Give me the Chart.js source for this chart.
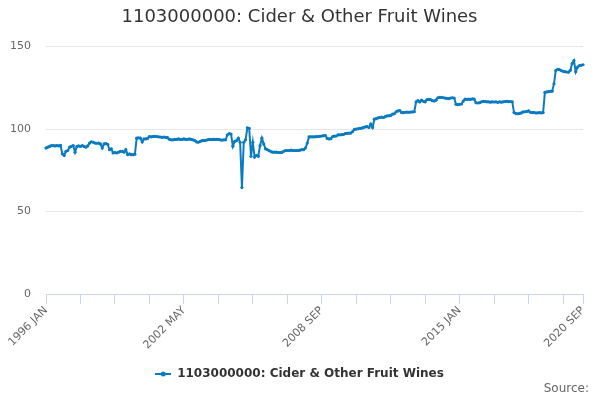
<!DOCTYPE html>
<html>
<head>
<meta charset="utf-8">
<script src="https://cdn.jsdelivr.net/npm/chart.js@4"></script>
<style>
  html, body { margin: 0; padding: 0; background: #ffffff; }
  #wrap { width: 600px; height: 400px; }
</style>
</head>
<body>
<div id="wrap"><canvas id="chart"></canvas></div>
<script>
// Monthly index, 1996 JAN .. 2020 SEP
const seriesName = '1103000000: Cider & Other Fruit Wines';
const sourceText = 'Source:';
const monthNames = ['JAN', 'FEB', 'MAR', 'APR', 'MAY', 'JUN', 'JUL', 'AUG', 'SEP', 'OCT', 'NOV', 'DEC'];
const firstYear = 1996;
const lastYear = 2020;
const lastMonth = 8; // SEP

const values = [
  88.5, 89, 89.5, 90, 90, 89.8, 90, 89.8, 90.2, 85, 84, 86.5,            // 1996
  87, 89, 89.5, 90, 86, 89.5, 89.8, 89.5, 90, 89.5, 89, 89.8,            // 1997
  91.5, 92.3, 92, 91.5, 91.4, 91.5, 91, 88.5, 91, 91.2, 90.8, 87.5,      // 1998
  88, 85.5, 85.8, 85.5, 86, 86.5, 86.5, 86, 87.5, 84.5, 85, 84.5,        // 1999
  84.5, 84.8, 94.5, 94.7, 94.5, 92.2, 94, 94, 94.3, 95.5, 95.3, 95.5,    // 2000
  95.6, 95.5, 95.3, 95.2, 95, 95.2, 95, 94.8, 93.8, 93.5, 93.5, 93.7,    // 2001
  93.7, 94, 93.7, 93.8, 94, 93.7, 93.8, 94, 93.7, 93.5, 93, 92.2,        // 2002
  92, 92.5, 93, 93, 93.2, 93.5, 93.7, 93.6, 93.7, 93.7, 93.8, 93.7,      // 2003
  93.5, 93.3, 93.5, 93.5, 96.5, 97.2, 97, 89.6, 92.5, 93, 94.5, 92,      // 2004
  64.5, 92, 93.5, 100.8, 100.5, 83.5, 92, 83, 84, 83.5, 90, 94.5,        // 2005
  91, 88, 87.5, 87, 86.3, 86, 86, 86, 85.8, 85.8, 85.8, 86.5,            // 2006
  87, 87, 87, 87.2, 87, 87, 87, 87, 87.2, 87.5, 87.5, 88.5,              // 2007
  91.5, 95.3, 95.3, 95.3, 95.3, 95.4, 95.5, 95.6, 95.8, 96, 96.1, 94.3,  // 2008
  94, 94.2, 95.5, 95.7, 95.8, 96.5, 96.5, 96.6, 96.7, 97.3, 97.4, 97.5,  // 2009
  97.6, 98.5, 99.8, 100, 100.2, 100.4, 100.6, 100.9, 101.3, 101.5, 101, 103, // 2010
  101, 106, 106.3, 106.8, 107, 107.2, 107, 107.5, 108, 108, 108.3, 109,  // 2011
  109.3, 110.5, 111, 111.2, 110, 110, 110.2, 110.3, 110.2, 110.3, 110.4, 110.5, // 2012
  116.5, 117.2, 116.4, 117.5, 116.8, 116.5, 117.8, 118, 117.8, 117.2, 117, 117.5, // 2013
  119, 119.2, 119.3, 119, 118.8, 118.6, 118.5, 118.8, 119, 118.8, 115, 114.8, // 2014
  115, 115.2, 117, 118.2, 118, 118.2, 118, 118.3, 118.2, 116, 115.8, 116, // 2015
  116.5, 116.8, 116.7, 116.5, 116.5, 116.3, 116.5, 116.4, 116.5, 116.2, 116.5, 116.3, // 2016
  116.5, 116.7, 116.8, 116.6, 116.7, 116.5, 110, 109.4, 109.3, 109.5, 109.8, 110.4, // 2017
  110.5, 110.7, 111, 110.2, 110, 110, 109.8, 109.8, 110, 109.8, 110, 122.3, // 2018
  122.5, 122.7, 122.9, 123, 127.4, 135.5, 136.2, 136, 135.5, 135, 134.8, 134.6, // 2019
  134.5, 135.6, 139.7, 141.5, 134.8, 137.6, 138.5, 138.7, 139            // 2020
];

const labels = [];
for (let y = firstYear; y <= lastYear; y++) {
  for (let m = 0; m < 12; m++) {
    if (y === lastYear && m > lastMonth) break;
    labels.push(y + ' ' + monthNames[m]);
  }
}

const labelledTicks = [0, 76, 152, 228, 296];
const tickStep = 19;
const yTicks = [0, 50, 100, 150];

const lineColor = '#0a7bc1';

// legend symbol: short line with a dot
const legendIcon = document.createElement('canvas');
legendIcon.width = 16;
legendIcon.height = 6;
(function () {
  const c = legendIcon.getContext('2d');
  c.strokeStyle = lineColor;
  c.lineWidth = 2;
  c.beginPath();
  c.moveTo(0, 3);
  c.lineTo(16, 3);
  c.stroke();
  c.fillStyle = lineColor;
  c.beginPath();
  c.arc(8, 3, 2.5, 0, Math.PI * 2);
  c.fill();
})();

// "Source:" credit in the bottom right corner
const sourceCredit = {
  id: 'sourceCredit',
  afterDraw(chart) {
    const ctx = chart.ctx;
    ctx.save();
    ctx.font = "12px 'DejaVu Sans', sans-serif";
    ctx.fillStyle = '#666666';
    ctx.textAlign = 'right';
    ctx.textBaseline = 'middle';
    ctx.fillText(sourceText, chart.width - 11, 389);
    ctx.restore();
  }
};

Chart.defaults.font.family = "'DejaVu Sans', sans-serif";
Chart.defaults.color = '#666666';

new Chart(document.getElementById('chart'), {
  type: 'line',
  data: {
    labels: labels,
    datasets: [{
      label: seriesName,
      data: values,
      borderColor: lineColor,
      backgroundColor: lineColor,
      borderWidth: 2,
      pointRadius: 1.6,
      pointBorderWidth: 0,
      pointBackgroundColor: lineColor,
      tension: 0,
      fill: false
    }]
  },
  plugins: [sourceCredit],
  options: {
    responsive: true,
    maintainAspectRatio: false,
    animation: false,
    layout: { padding: { left: 8, right: 9, top: 0, bottom: 10 } },
    scales: {
      x: {
        offset: false,
        grid: {
          display: true,
          drawOnChartArea: false,
          drawTicks: true,
          tickLength: 10,
          color: ctx => (ctx.index % tickStep === 0 || ctx.index === labels.length - 1) ? '#ccd6eb' : 'rgba(0,0,0,0)'
        },
        border: { display: true, color: '#ccd6eb', width: 1 },
        ticks: {
          autoSkip: false,
          maxRotation: 45,
          minRotation: 45,
          padding: 0,
          color: '#666666',
          font: { size: 11 },
          callback: (val, idx) => labelledTicks.includes(idx) ? labels[idx] : ''
        },
        afterFit: scale => { scale.height = 73; }
      },
      y: {
        min: 0,
        max: 150,
        afterBuildTicks: scale => { scale.ticks = yTicks.map(v => ({ value: v })); },
        grid: { color: '#e6e6e6', drawTicks: false },
        border: { display: false },
        ticks: { padding: 15, color: '#666666', font: { size: 11 } },
        afterFit: scale => { scale.width = 38; }
      },
      // empty spacer on the right so the plot ends where the original does
      yRight: {
        position: 'right',
        min: 0,
        max: 150,
        grid: { display: false },
        border: { display: false },
        ticks: { display: false },
        afterFit: scale => { scale.width = 8; }
      }
    },
    plugins: {
      title: {
        display: true,
        text: seriesName,
        color: '#333333',
        font: { size: 18, weight: 'normal' },
        padding: { top: 7, bottom: 18 }
      },
      legend: {
        display: true,
        position: 'bottom',
        labels: {
          usePointStyle: true,
          pointStyle: legendIcon,
          pointStyleWidth: 16,
          padding: 1,
          color: '#333333',
          font: { size: 12, weight: 'bold' }
        }
      },
      tooltip: { enabled: false }
    }
  }
});
</script>
</body>
</html>
